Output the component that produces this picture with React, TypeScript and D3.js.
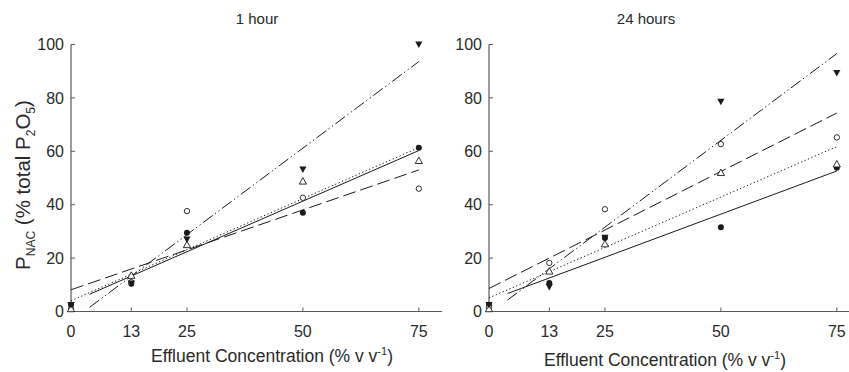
import React from "react";
import * as d3 from "d3";

// ---- data ----
const concentrations = [0, 13, 25, 50, 75];
const xTicks = [0, 13, 25, 50, 75];
const yTicks = [0, 20, 40, 60, 80, 100];
const panelTitles = ["1 hour", "24 hours"];

// 1 hour
const h1FilledCircle = [2.5, 10.4, 29.5, 37, 61.3];
const h1OpenCircle = [1, 11, 37.6, 42.6, 46];
const h1OpenTriangle = [1, 13.5, 25, 48.8, 56.5];
const h1FilledTriangle = [2.5, 10.5, 27, 53.2, 100];
// 24 hours
const h24FilledCircle = [2.5, 10.7, 27.5, 31.6, 53.8];
const h24OpenCircle = [1.5, 18.2, 38.3, 62.7, 65.2];
const h24OpenTriangle = [1, 15.1, 25.3, 52, 55.2];
const h24FilledTriangle = [2.5, 9.2, 27.7, 78.6, 89.4];

type SeriesKind = "filledCircle" | "openCircle" | "openTriangle" | "filledTriangle";
const seriesKinds: SeriesKind[] = ["filledCircle", "openCircle", "openTriangle", "filledTriangle"];
const panelValues: number[][][] = [
  [h1FilledCircle, h1OpenCircle, h1OpenTriangle, h1FilledTriangle],
  [h24FilledCircle, h24OpenCircle, h24OpenTriangle, h24FilledTriangle],
];

// line styles per series
const lineStyle: Record<SeriesKind, { dash: string; start: number }> = {
  filledCircle: { dash: "none", start: 4 },
  openCircle: { dash: "13,5", start: 0 },
  openTriangle: { dash: "1.3,2.4", start: 0 },
  filledTriangle: { dash: "12,3,1.3,3,1.3,3", start: 4 },
};

function regression(xs: number[], ys: number[]) {
  const mx = d3.mean(xs)!;
  const my = d3.mean(ys)!;
  let sxy = 0, sxx = 0;
  xs.forEach((x, i) => {
    sxy += (x - mx) * (ys[i] - my);
    sxx += (x - mx) * (x - mx);
  });
  const slope = sxy / sxx;
  return { slope, intercept: my - slope * mx };
}

const FONT = "'Liberation Sans', Arial, Helvetica, sans-serif";
const AXIS = "#5a5a5a";
const INK = "#1a1a1a";
const TEXT = "#2a2a2a";

function Marker({ kind, cx, cy }: { kind: SeriesKind; cx: number; cy: number }) {
  if (kind === "filledCircle") return <circle cx={cx} cy={cy} r={3} fill={INK} />;
  if (kind === "openCircle") return <circle cx={cx} cy={cy} r={2.7} fill="white" stroke={INK} strokeWidth={0.9} />;
  const s = 3.6;
  if (kind === "openTriangle") {
    const p = `M${cx},${cy - s} L${cx + s},${cy + s * 0.8} L${cx - s},${cy + s * 0.8} Z`;
    return <path d={p} fill="white" stroke={INK} strokeWidth={0.9} />;
  }
  const p = `M${cx - s},${cy - s * 0.8} L${cx + s},${cy - s * 0.8} L${cx},${cy + s} Z`;
  return <path d={p} fill={INK} />;
}

function Panel({ idx, left, right }: { idx: number; left: number; right: number }) {
  const top = 44.5;
  const bottom = 311.5;
  const x = d3.scaleLinear().domain([0, 80]).range([left, right]);
  const y = d3.scaleLinear().domain([0, 100]).range([bottom, top]);
  const values = panelValues[idx];
  const line = d3.line<[number, number]>().x((d) => x(d[0])).y((d) => y(d[1]));
  return (
    <g>
      {/* axes */}
      <line x1={x(0)} x2={x(0)} y1={y(0)} y2={y(100)} stroke={AXIS} strokeWidth={1.2} />
      <line x1={x(0)} x2={x(80)} y1={y(0)} y2={y(0)} stroke={AXIS} strokeWidth={1.2} />
      {yTicks.map((t) => (
        <g key={"y" + t}>
          <line x1={x(0)} x2={x(0) + 4} y1={y(t)} y2={y(t)} stroke={AXIS} strokeWidth={1} />
          <text x={x(0) - 7} y={y(t)} dy="0.36em" textAnchor="end" fontSize={16} fill={TEXT} fontFamily={FONT}>
            {t}
          </text>
        </g>
      ))}
      {xTicks.map((t) => (
        <g key={"x" + t}>
          <line x1={x(t)} x2={x(t)} y1={y(0)} y2={y(0) - 4} stroke={AXIS} strokeWidth={1} />
          <text x={x(t)} y={337} textAnchor="middle" fontSize={16} fill={TEXT} fontFamily={FONT}>
            {t}
          </text>
        </g>
      ))}
      {/* regression lines */}
      {seriesKinds.map((k, si) => {
        const { slope, intercept } = regression(concentrations, values[si]);
        const x0 = lineStyle[k].start;
        const pts: [number, number][] = [
          [x0, intercept + slope * x0],
          [75, intercept + slope * 75],
        ];
        return (
          <path
            key={"l" + k}
            d={line(pts)!}
            fill="none"
            stroke={INK}
            strokeWidth={1}
            strokeDasharray={lineStyle[k].dash}
          />
        );
      })}
      {/* points */}
      {seriesKinds.map((k, si) =>
        values[si].map((v, i) => <Marker key={k + i} kind={k} cx={x(concentrations[i])} cy={y(v)} />)
      )}
      <text x={idx === 0 ? 257 : 646} y={24} textAnchor="middle" fontSize={15} fill={TEXT} fontFamily={FONT}>
        {panelTitles[idx]}
      </text>
      <text x={idx === 0 ? 272 : 665} y={idx === 0 ? 362 : 366} textAnchor="middle" fontSize={17.5} fill={TEXT} fontFamily={FONT}>
        Effluent Concentration (% v v<tspan dy={-7} fontSize={11}>-1</tspan>
        <tspan dy={7}>)</tspan>
      </text>
    </g>
  );
}

export default function App() {
  return (
    <svg width={849} height={372} style={{ position: "absolute", left: 0, top: 0, background: "white" }}>
      <rect width={849} height={372} fill="white" />
      <Panel idx={0} left={71} right={442} />
      <Panel idx={1} left={489} right={860} />
      <text
        transform="translate(30,185) rotate(-90)"
        textAnchor="middle"
        fontSize={20.5}
        fill={TEXT}
        fontFamily={FONT}
      >
        P<tspan dy={5} fontSize={12}>NAC</tspan>
        <tspan dy={-5}> (% total P</tspan>
        <tspan dy={5} fontSize={12}>2</tspan>
        <tspan dy={-5}>O</tspan>
        <tspan dy={5} fontSize={12}>5</tspan>
        <tspan dy={-5}>)</tspan>
      </text>
    </svg>
  );
}
